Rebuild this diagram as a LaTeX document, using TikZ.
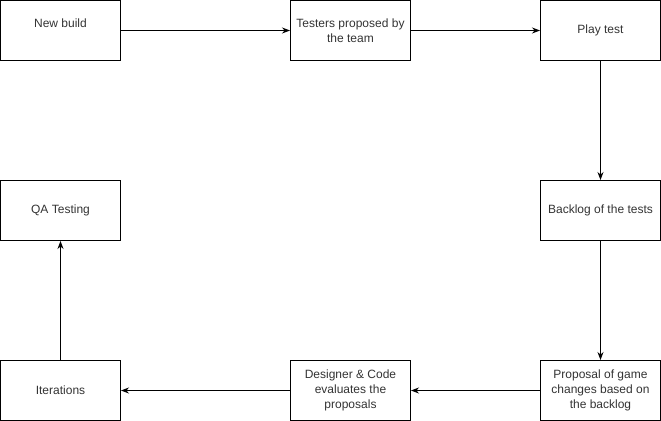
\documentclass[tikz,border=0pt]{standalone}
\usepackage{fontspec}
\setmainfont{Liberation Sans}
\usepackage{tikz}
\usetikzlibrary{arrows.meta}

\begin{document}
\begin{tikzpicture}[x=0.75pt, y=-0.75pt,
    box/.style={draw, line width=0.75pt, minimum width=90pt, minimum height=45pt,
      align=center, text=black!80, font=\fontsize{9}{11.25}\selectfont},
    flow/.style={line width=0.75pt, -{Stealth[length=6pt, width=4.5pt]}}]
  \useasboundingbox (0,0) rectangle (661,421);

  \node[box] (build) at (60.5,30.5) {New build\\ \mbox{}};
  \node[box] (testers) at (350.5,30.5) {Testers proposed by\\the team};
  \node[box] (play) at (600.5,30.5) {Play test};

  \node[box] (qa) at (60.5,210.5) {QA Testing};
  \node[box] (backlog) at (600.5,210.5) {Backlog of the tests};

  \node[box] (iter) at (60.5,390.5) {Iterations};
  \node[box] (designer) at (350.5,390.5) {Designer \& Code\\evaluates the\\proposals};
  \node[box] (proposal) at (600.5,390.5) {Proposal of game\\changes based on\\the backlog};

  \draw[flow] (build) -- (testers);
  \draw[flow] (testers) -- (play);
  \draw[flow] (play) -- (backlog);
  \draw[flow] (backlog) -- (proposal);
  \draw[flow] (proposal) -- (designer);
  \draw[flow] (designer) -- (iter);
  \draw[flow] (iter) -- (qa);
\end{tikzpicture}
\end{document}
